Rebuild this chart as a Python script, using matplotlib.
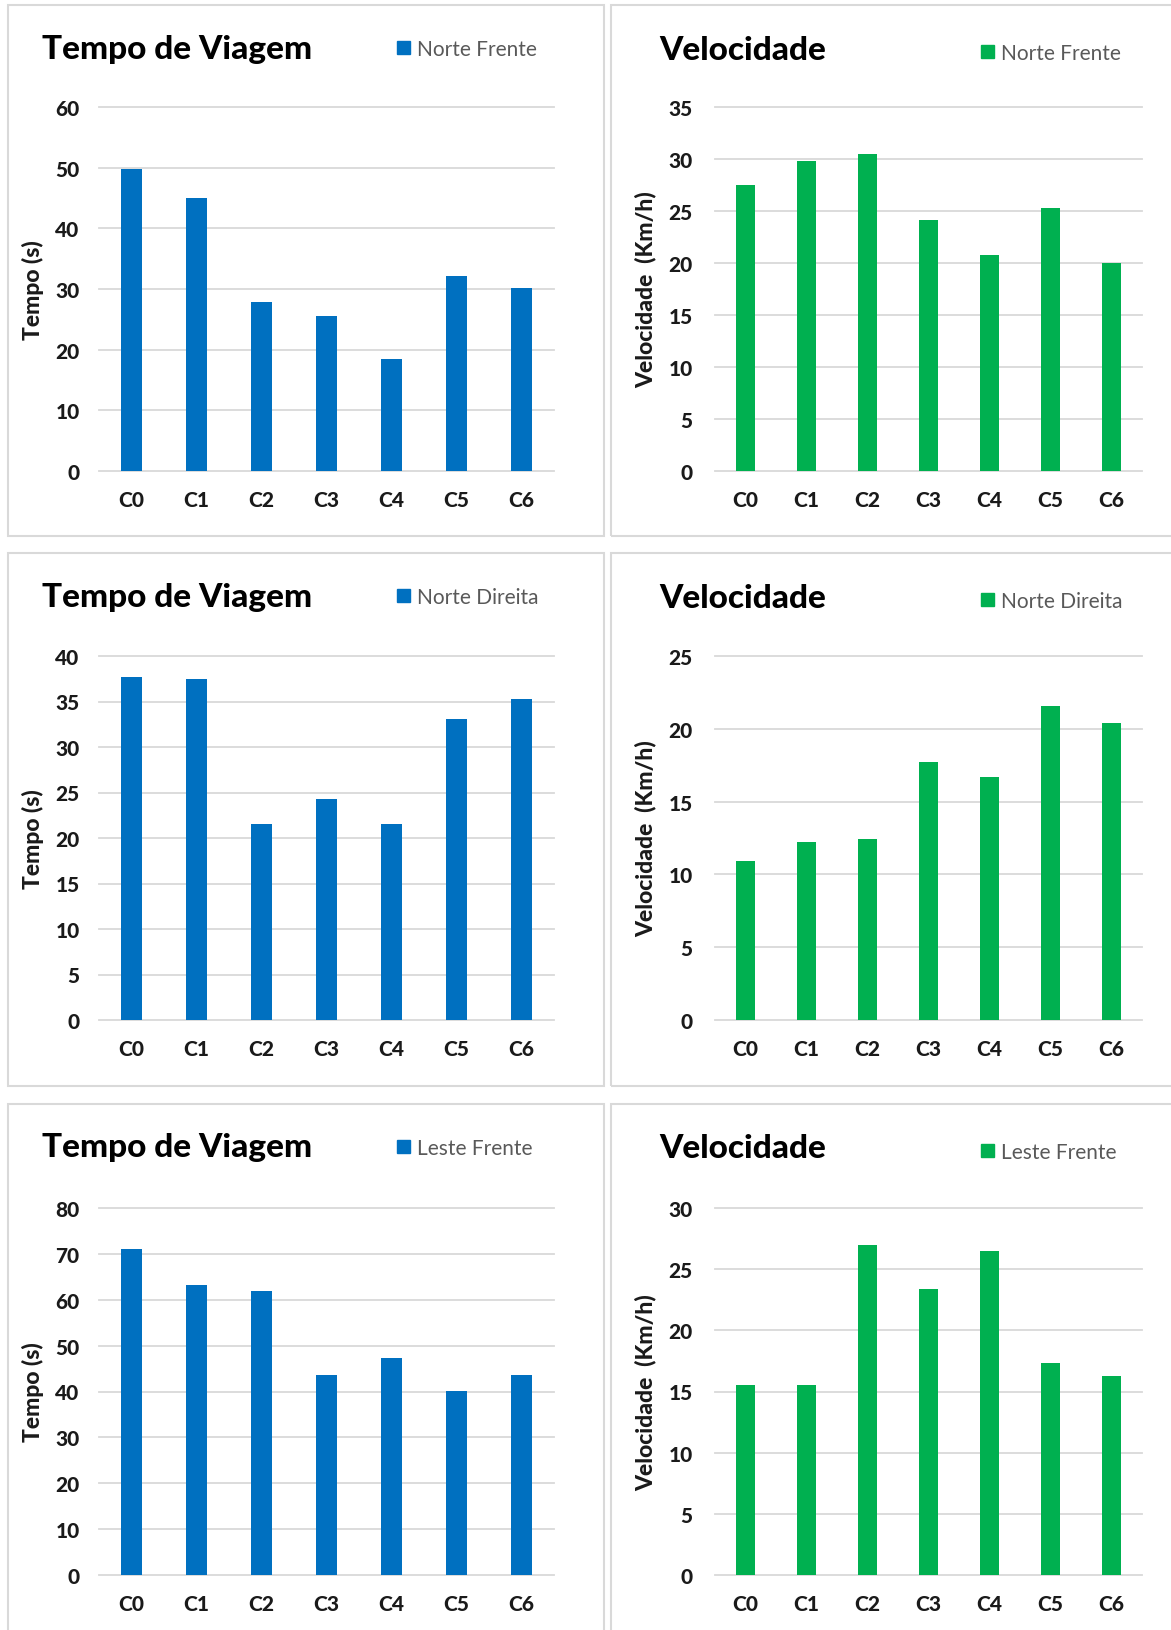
import matplotlib
matplotlib.use("Agg")
import matplotlib.pyplot as plt
from matplotlib.patches import Rectangle, Patch

plt.rcParams['font.family'] = ['Lato', 'DejaVu Sans']

categories = ['C0', 'C1', 'C2', 'C3', 'C4', 'C5', 'C6']

tempo_norte_frente = [49.8, 45.0, 27.9, 25.6, 18.5, 32.1, 30.1]
vel_norte_frente = [27.5, 29.8, 30.5, 24.1, 20.8, 25.3, 20.0]
tempo_norte_direita = [37.7, 37.5, 21.5, 24.3, 21.5, 33.1, 35.3]
vel_norte_direita = [10.9, 12.2, 12.4, 17.7, 16.7, 21.6, 20.4]
tempo_leste_frente = [71.0, 63.3, 62.0, 43.6, 47.4, 40.2, 43.6]
vel_leste_frente = [15.5, 15.5, 27.0, 23.4, 26.5, 17.3, 16.3]

series_names = ['Norte Frente', 'Norte Direita', 'Leste Frente']
tempo_ticks = [range(0, 61, 10), range(0, 41, 5), range(0, 81, 10)]
vel_ticks = [range(0, 36, 5), range(0, 26, 5), range(0, 31, 5)]

BLUE = '#0070C0'
GREEN = '#00B050'
GRID = '#d9d9d9'
TEXT = '#1a1a1a'
W, H = 1171, 1631

fig = plt.figure(figsize=(W / 100, H / 100), dpi=100)


def fx(x):
    return x / W


def fy(y):
    return 1 - y / H


# pixel layout of each row: (panel top, panel bottom, plot top, plot zero)
rows = [(6, 537, 108, 472), (554, 1087, 657, 1021), (1105, 1660, 1209, 1576)]
# columns: (panel left, panel right, plot left, plot right, title x, legend x)
cols = [(8, 604, 99, 554, 42, 397), (611, 1175, 715, 1142, 659, 981)]

panels = [
    (tempo_norte_frente, vel_norte_frente),
    (tempo_norte_direita, vel_norte_direita),
    (tempo_leste_frente, vel_leste_frente),
]

for r, (tempo, vel) in enumerate(panels):
    ptop, pbot, atop, azero = rows[r]
    for c in range(2):
        pl, pr, al, ar, tx, lx = cols[c]
        fig.patches.append(Rectangle((fx(pl), fy(pbot)), fx(pr - pl), (pbot - ptop) / H,
                                     transform=fig.transFigure, fill=False,
                                     edgecolor=GRID, lw=1.5))
        ax = fig.add_axes([fx(al), fy(azero), fx(ar - al), (azero - atop) / H])
        if c == 0:
            values, color, ticks = tempo, BLUE, tempo_ticks[r]
            title, ylabel = 'Tempo de Viagem', 'Tempo (s)'
            label_x, pad = -0.121, 14
        else:
            values, color, ticks = vel, GREEN, vel_ticks[r]
            title, ylabel = 'Velocidade', 'Velocidade  (Km/h)'
            label_x, pad = -0.136, 16
        ax.bar(categories, values, width=0.32, color=color, zorder=3)
        ax.set_xlim(-0.5, 6.5)
        ax.set_ylim(0, max(ticks))
        ax.set_yticks(list(ticks))
        ax.grid(axis='y', color=GRID, lw=1.3, zorder=0)
        ax.grid(axis='x', visible=False)
        for s in ax.spines.values():
            s.set_visible(False)
        ax.tick_params(axis='y', length=0, pad=pad, labelsize=15, labelcolor=TEXT)
        ax.tick_params(axis='x', length=0, pad=14, labelsize=15, labelcolor=TEXT)
        for lab in ax.get_xticklabels() + ax.get_yticklabels():
            lab.set_fontweight(900)
        ax.set_ylabel(ylabel, fontsize=16.5, fontweight=900, color=TEXT)
        ax.yaxis.set_label_coords(label_x, 0.5)
        for gl in ax.get_ygridlines():
            gl.set_clip_on(False)

        ty = ptop + 43 if c == 0 else ptop + 44
        fig.text(fx(tx), fy(ty), title, fontsize=24, fontweight=900,
                 color='black', ha='left', va='center')
        ly = ptop + 44 if c == 0 else ptop + 48
        ax.legend(handles=[Patch(color=color, label=series_names[r])],
                  loc='center left', bbox_to_anchor=(fx(lx), fy(ly)),
                  bbox_transform=fig.transFigure, frameon=False,
                  handlelength=0.6, handleheight=0.6, handletextpad=0.35,
                  borderpad=0, borderaxespad=0, labelcolor='#595959',
                  prop={'size': 15})

fig.savefig('out.png', dpi=100, facecolor='white')
